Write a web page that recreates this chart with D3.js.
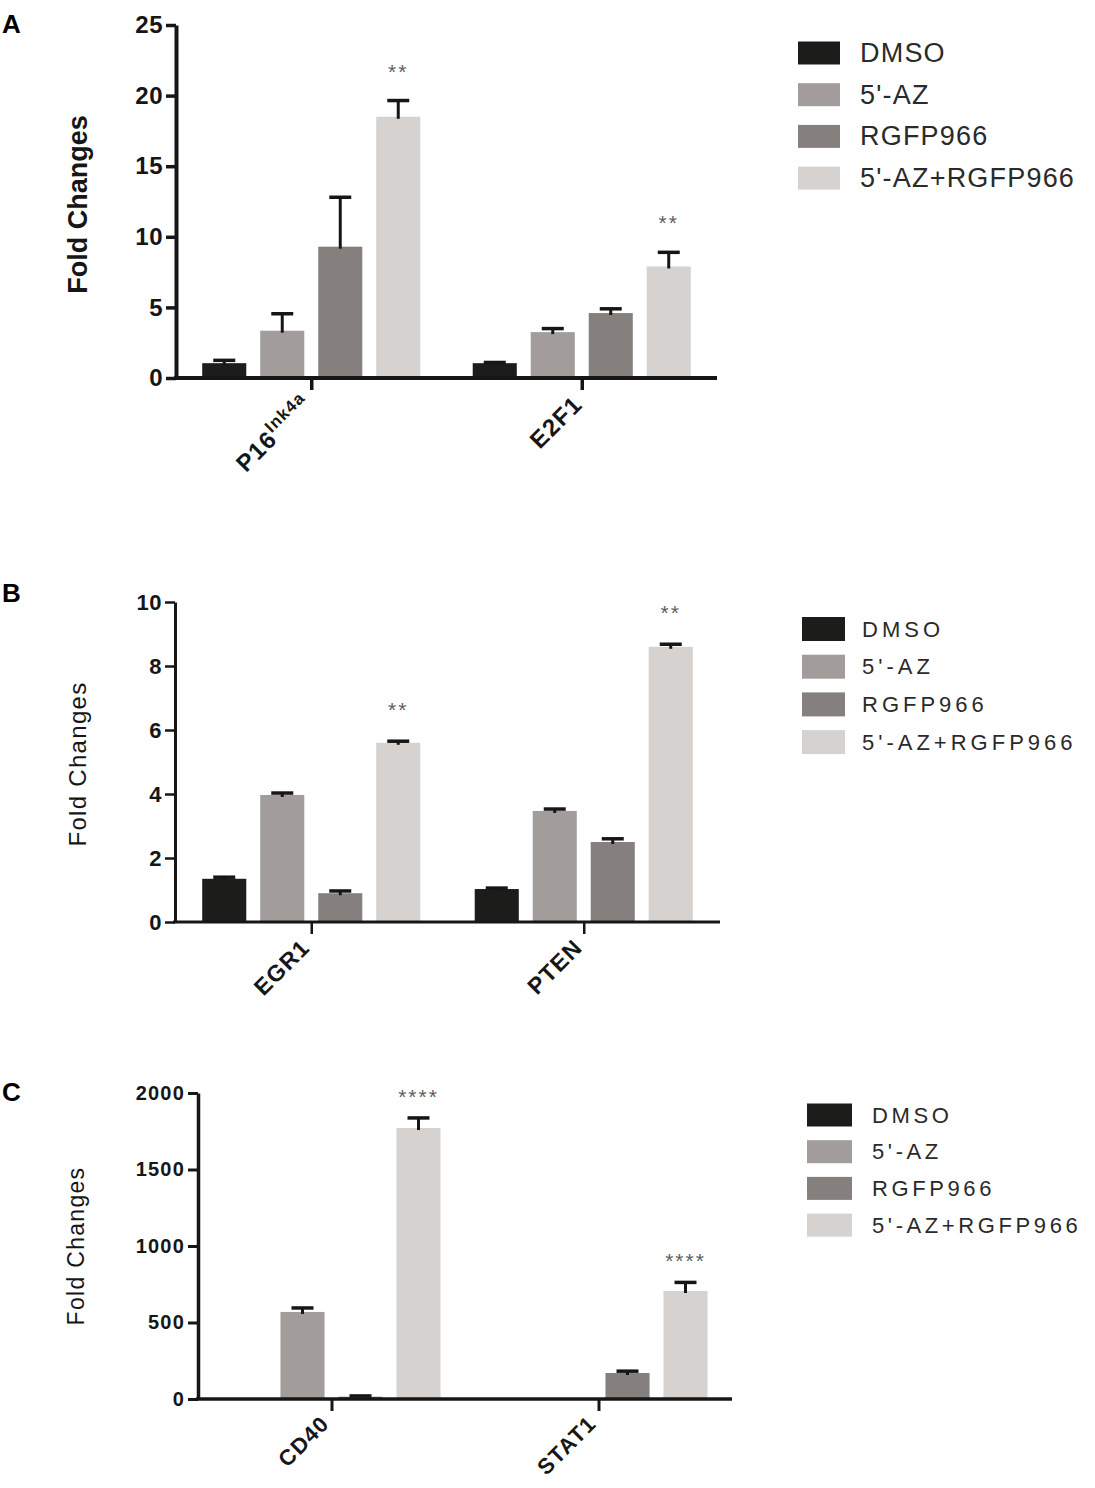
<!DOCTYPE html>
<html>
<head>
<meta charset="utf-8">
<script src="https://cdn.jsdelivr.net/npm/d3@7"></script>
<style>
  body { margin: 0; background: #fff; }
  svg { display: block; }
</style>
</head>
<body>
<svg id="fig" width="1095" height="1488"></svg>
<script>
const treatments = ["DMSO", "5'-AZ", "RGFP966", "5'-AZ+RGFP966"];
const treatmentColors = ["#1c1d1b", "#a29d9b", "#85807d", "#d6d2d0"];

// panel A
const genesA = ["P16", "E2F1"];
const labelsA = [["P16", "Ink4a"], ["E2F1", ""]];
const meansA = [[1.05, 3.35, 9.3, 18.5], [1.05, 3.25, 4.6, 7.9]];
const errorsA = [[0.2, 1.2, 3.5, 1.15], [0.05, 0.25, 0.3, 1.0]];
const starsA = ["**", "**"];
const ticksA = [0, 5, 10, 15, 20, 25];

// panel B
const genesB = ["EGR1", "PTEN"];
const labelsB = [["EGR1", ""], ["PTEN", ""]];
const meansB = [[1.35, 3.97, 0.9, 5.6], [1.03, 3.47, 2.5, 8.6]];
const errorsB = [[0.05, 0.06, 0.07, 0.05], [0.03, 0.06, 0.1, 0.08]];
const starsB = ["**", "**"];
const ticksB = [0, 2, 4, 6, 8, 10];

// panel C
const genesC = ["CD40", "STAT1"];
const labelsC = [["CD40", ""], ["STAT1", ""]];
const meansC = [[1, 569, 15, 1771], [1, 3, 170, 706]];
const errorsC = [[0, 26, 5, 66], [0, 0, 12, 56]];
const starsC = ["****", "****"];
const ticksC = [0, 500, 1000, 1500, 2000];

const FONT = "'Liberation Sans', Arial, Helvetica, sans-serif";
const INK = "#161616";

function drawPanel(svg, cfg) {
  const L = cfg.layout;
  const g = svg.append("g");

  const x = d3.scalePoint().domain(cfg.genes).range([L.left, L.right]).padding(0.5);
  const y = d3.scaleLinear().domain([0, d3.max(cfg.ticks)]).range([L.bottom, L.top]);
  const inner = d3.scaleBand().domain(treatments)
    .range([-116, 116]).paddingInner(0.24).paddingOuter(0.12);

  // panel letter
  g.append("text")
    .attr("x", 2).attr("y", L.letterY)
    .attr("font-family", FONT).attr("font-weight", "bold").attr("font-size", 26)
    .attr("fill", "#000")
    .text(cfg.letter);

  // bars
  const rows = cfg.genes.flatMap((gene, i) =>
    treatments.map((t, j) => ({ gene, t, j, mean: cfg.means[i][j], err: cfg.errors[i][j] })));

  g.selectAll("rect.bar").data(rows).join("rect")
    .attr("class", "bar")
    .attr("x", (d) => x(d.gene) + inner(d.t))
    .attr("y", (d) => y(d.mean))
    .attr("width", inner.bandwidth())
    .attr("height", (d) => y(0) - y(d.mean))
    .attr("fill", (d) => treatmentColors[d.j]);

  // error bars (upper only)
  const withErr = rows.filter((d) => d.err > 0);
  const cx = (d) => x(d.gene) + inner(d.t) + inner.bandwidth() / 2;
  g.selectAll("line.stem").data(withErr).join("line")
    .attr("x1", cx).attr("x2", cx)
    .attr("y1", (d) => y(d.mean) + 2)
    .attr("y2", (d) => y(d.mean + d.err))
    .attr("stroke", INK).attr("stroke-width", 3);
  g.selectAll("line.cap").data(withErr).join("line")
    .attr("x1", (d) => cx(d) - 11).attr("x2", (d) => cx(d) + 11)
    .attr("y1", (d) => y(d.mean + d.err))
    .attr("y2", (d) => y(d.mean + d.err))
    .attr("stroke", INK).attr("stroke-width", 3.5);

  // significance
  const last = treatments.length - 1;
  g.selectAll("text.star").data(cfg.genes).join("text")
    .attr("x", (gene) => x(gene) + inner(treatments[last]) + inner.bandwidth() / 2)
    .attr("y", (gene, i) => y(cfg.means[i][last] + cfg.errors[i][last]) - L.starGap)
    .attr("text-anchor", "middle")
    .attr("font-family", FONT).attr("font-size", 21)
    .attr("letter-spacing", 2)
    .attr("fill", "#5e5e5e")
    .text((gene, i) => cfg.stars[i]);

  // y axis
  const yAxis = g.append("g")
    .attr("transform", `translate(${L.left},0)`)
    .call(d3.axisLeft(y).tickValues(cfg.ticks).tickFormat(d3.format("d"))
      .tickSize(10).tickSizeOuter(0).tickPadding(3));
  yAxis.select(".domain").attr("stroke", INK).attr("stroke-width", L.stroke);
  yAxis.selectAll(".tick line").attr("stroke", INK).attr("stroke-width", L.stroke - 0.5);
  yAxis.selectAll(".tick text")
    .attr("font-family", FONT).attr("font-weight", "bold")
    .attr("font-size", L.tickFont).attr("letter-spacing", L.tickSpacing)
    .attr("fill", INK);

  // x axis
  const xAxis = g.append("g")
    .attr("transform", `translate(0,${L.bottom})`)
    .call(d3.axisBottom(x).tickSize(12).tickSizeOuter(0).tickFormat(""));
  xAxis.select(".domain")
    .attr("d", `M${L.left - 2},0H${L.right}`)
    .attr("stroke", INK).attr("stroke-width", L.stroke);
  xAxis.selectAll(".tick line").attr("stroke", INK).attr("stroke-width", L.stroke - 0.5);

  // rotated category labels
  const lab = g.selectAll("text.cat").data(cfg.genes).join("text")
    .attr("transform", (gene) => `translate(${x(gene) + L.catDx},${L.bottom + L.catDy}) rotate(-45)`)
    .attr("text-anchor", "end")
    .attr("font-family", FONT).attr("font-weight", "bold").attr("font-size", L.catFont)
    .attr("letter-spacing", 1.2)
    .attr("fill", INK);
  lab.append("tspan").text((gene, i) => cfg.labels[i][0]);
  lab.append("tspan")
    .attr("font-size", L.catFont * 0.7)
    .attr("dy", -L.catFont * 0.42)
    .text((gene, i) => cfg.labels[i][1]);

  // y title
  g.append("text")
    .attr("transform", `translate(${L.titleX},${(L.top + L.bottom) / 2 + L.titleShift}) rotate(-90)`)
    .attr("text-anchor", "middle")
    .attr("dominant-baseline", "central")
    .attr("font-family", FONT)
    .attr("font-weight", L.titleBold ? "bold" : "normal")
    .attr("font-size", L.titleFont).attr("letter-spacing", L.titleSpacing)
    .attr("fill", INK)
    .text("Fold Changes");

  // legend
  const leg = g.selectAll("g.leg").data(treatments).join("g")
    .attr("transform", (t, j) => `translate(${L.legX},${L.legY + j * L.legGap})`);
  leg.append("rect")
    .attr("x", 0).attr("y", -L.legH / 2)
    .attr("width", L.legW).attr("height", L.legH)
    .attr("fill", (t, j) => treatmentColors[j]);
  leg.append("text")
    .attr("x", L.legTextX - L.legX).attr("y", 0)
    .attr("dominant-baseline", "central")
    .attr("font-family", FONT).attr("font-size", L.legFont)
    .attr("letter-spacing", L.legSpacing)
    .attr("fill", "#2a2a2a")
    .text((t) => t);
}

const svg = d3.select("#fig");

drawPanel(svg, {
  letter: "A", genes: genesA, labels: labelsA, means: meansA, errors: errorsA,
  stars: starsA, ticks: ticksA,
  layout: {
    left: 176, right: 717, top: 25, bottom: 378, stroke: 4, letterY: 33,
    tickFont: 24, tickSpacing: 0.5, catFont: 24, catDx: 2, catDy: 28, starGap: 22,
    titleX: 78, titleShift: 3, titleFont: 27, titleBold: true, titleSpacing: 0,
    legX: 798, legY: 53, legGap: 41.7, legW: 42, legH: 23, legTextX: 860,
    legFont: 27, legSpacing: 1.2
  }
});

drawPanel(svg, {
  letter: "B", genes: genesB, labels: labelsB, means: meansB, errors: errorsB,
  stars: starsB, ticks: ticksB,
  layout: {
    left: 175, right: 720, top: 602, bottom: 922, stroke: 3, letterY: 602,
    tickFont: 22, tickSpacing: 0.5, catFont: 23, catDx: 0, catDy: 27, starGap: 24,
    titleX: 77, titleShift: 2, titleFont: 24, titleBold: false, titleSpacing: 1.3,
    legX: 802, legY: 629, legGap: 37.7, legW: 43, legH: 24, legTextX: 862,
    legFont: 22, legSpacing: 4
  }
});

drawPanel(svg, {
  letter: "C", genes: genesC, labels: labelsC, means: meansC, errors: errorsC,
  stars: starsC, ticks: ticksC,
  layout: {
    left: 198, right: 732, top: 1093, bottom: 1399, stroke: 3.5, letterY: 1101,
    tickFont: 20, tickSpacing: 1.2, catFont: 22, catDx: -1, catDy: 26, starGap: 14,
    titleX: 76, titleShift: 0, titleFont: 23, titleBold: false, titleSpacing: 1.3,
    legX: 807, legY: 1115, legGap: 36.7, legW: 45, legH: 23, legTextX: 872,
    legFont: 22, legSpacing: 3.6
  }
});
</script>
</body>
</html>
